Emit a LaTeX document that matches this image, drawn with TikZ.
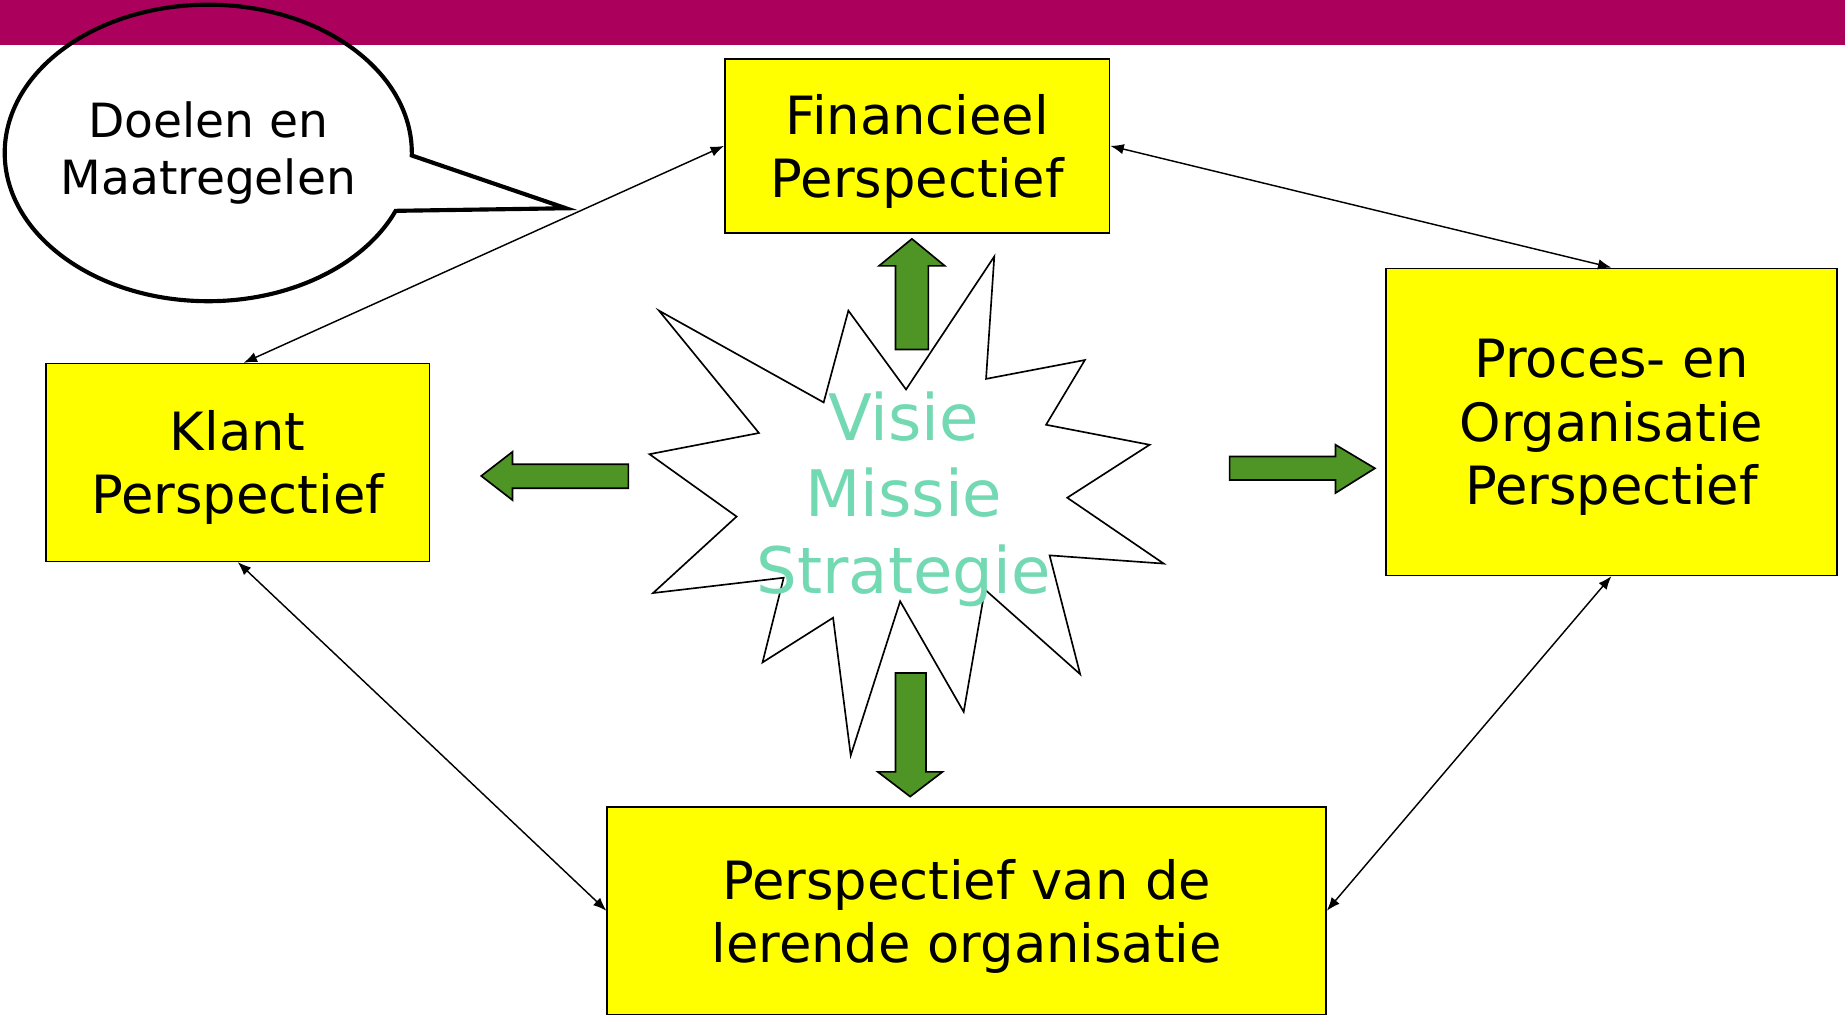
\documentclass[tikz,border=0pt]{standalone}
\usepackage{fontspec}
\setmainfont{DejaVu Sans}
\usetikzlibrary{arrows.meta,positioning,shapes.callouts}

\definecolor{barmagenta}{RGB}{171,0,91}
\definecolor{boxyellow}{RGB}{255,255,0}
\definecolor{arrowgreen}{RGB}{78,149,38}
\definecolor{visiegreen}{RGB}{115,217,178}

\tikzset{
  persp/.style={draw,fill=boxyellow,line width=0.7pt,align=center,inner sep=0pt,text depth=-0.02cm,
    font=\fontsize{25.5}{30.5}\selectfont},
  fatarrow/.style={draw,fill=arrowgreen,line width=0.8pt},
  link/.style={<->,line width=0.7pt}
}

\begin{document}
\begin{tikzpicture}[>={Latex[length=6.5pt,width=5pt]},on grid]

\useasboundingbox (0,0) rectangle (31.36,17.26);

\fill[barmagenta] (0,16.5) rectangle (31.36,17.26);

\node[ellipse callout,draw,line width=2pt,inner xsep=-0.1cm,inner ysep=0pt,minimum width=6.92cm,minimum height=5.04cm,
      callout absolute pointer={(9.62,13.72)},callout pointer arc=22,align=center,
      font=\fontsize{22.8}{28}\selectfont] (doelen) at (3.54,14.66) {Doelen en\\Maatregelen};

\draw[fill=white,line width=0.8pt] (16.90,12.90) -- (16.76,10.82) -- (18.44,11.14) -- (17.78,10.04)
  -- (19.54,9.70) -- (18.14,8.80) -- (19.78,7.68) -- (17.84,7.82) -- (18.36,5.80) -- (16.74,7.24)
  -- (16.38,5.16) -- (15.30,7.04) -- (14.46,4.42) -- (14.16,6.76) -- (12.96,6.00) -- (13.32,7.44)
  -- (11.10,7.18) -- (12.52,8.48) -- (11.04,9.54) -- (12.90,9.90) -- (11.20,11.98) -- (14.00,10.42)
  -- (14.42,11.98) -- (15.40,10.64) -- cycle;

\node[text=visiegreen,align=center,font=\fontsize{31}{37}\selectfont] (visie) at (15.36,8.78) {Visie\\Missie\\Strategie};

\node[persp,minimum width=6.54cm,minimum height=2.96cm] (fin) [above right=6.00cm and 0.23cm of visie] {Financieel\\Perspectief};

\node[persp,minimum width=6.52cm,minimum height=3.36cm] (klant) [above left=0.62cm and 11.32cm of visie] {Klant\\Perspectief};

\node[persp,minimum width=7.66cm,minimum height=5.22cm] (proces) [above right=1.31cm and 12.03cm of visie] {Proces- en\\Organisatie\\Perspectief};

\node[persp,minimum width=12.22cm,minimum height=3.52cm] (leren) [below right=7.00cm and 1.07cm of visie] {Perspectief van de\\lerende organisatie};

\draw[fatarrow] (15.22,11.32) -- (15.78,11.32) -- (15.78,12.74) -- (16.06,12.74) -- (15.50,13.20) -- (14.94,12.74) -- (15.22,12.74) -- cycle;

\draw[fatarrow] (15.22,5.82) -- (15.74,5.82) -- (15.74,4.14) -- (16.02,4.14) -- (15.47,3.72) -- (14.92,4.14) -- (15.22,4.14) -- cycle;

\draw[fatarrow] (10.68,9.37) -- (8.71,9.37) -- (8.71,9.58) -- (8.18,9.17) -- (8.71,8.76) -- (8.71,8.96) -- (10.68,8.96) -- cycle;

\draw[fatarrow] (20.90,9.50) -- (22.70,9.50) -- (22.70,9.70) -- (23.37,9.30) -- (22.70,8.88) -- (22.70,9.10) -- (20.90,9.10) -- cycle;

\draw[link] ([xshift=1mm]klant.north) -- (fin.west);

\draw[link] (fin.east) -- (proces.north);

\draw[link] (klant.south) -- (leren.west);

\draw[link] (proces.south) -- (leren.east);

\end{tikzpicture}
\end{document}
